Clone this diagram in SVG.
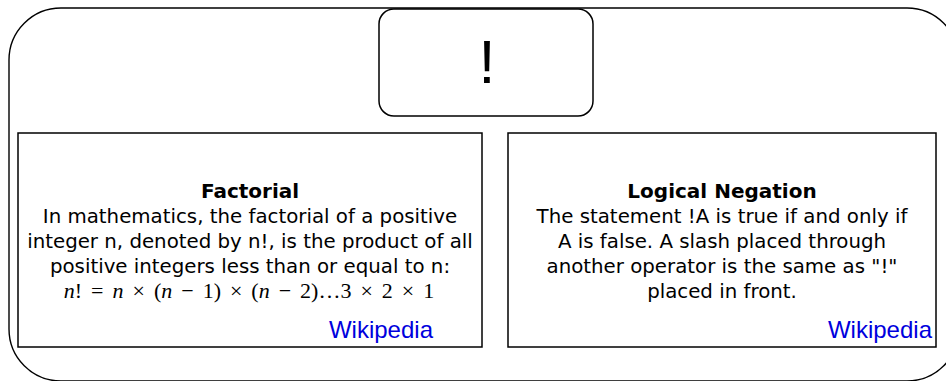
<svg xmlns="http://www.w3.org/2000/svg" width="946" height="381" viewBox="0 0 946 381">
<style>
.box{fill:#fff;stroke:#000;stroke-width:1.5}
.body{font-family:"DejaVu Sans",Verdana,sans-serif;font-size:19.8px;fill:#000;text-anchor:middle}
.title{font-weight:bold;font-size:20px}
.math{font-family:"Liberation Serif","Times New Roman",serif;font-size:22px;text-anchor:middle;word-spacing:3.5px}
.wiki{font-family:"Liberation Sans",Arial,sans-serif;font-size:24px;fill:#0000dd;text-anchor:end}
</style>
<rect width="946" height="381" fill="#fff"/>
<g id="container">
<rect x="9" y="8" width="950" height="373" rx="52" ry="52" fill="#fff" stroke="#000" stroke-width="1.4"/>
</g>
<g id="connectors"></g>
<g id="bang">
<rect class="box" x="379" y="9" width="214" height="107" rx="15" ry="15"/>
<text x="487" y="83" font-family="Liberation Sans,Arial,sans-serif" font-size="61" text-anchor="middle">!</text>
</g>
<g id="factorial">
<rect class="box" x="18" y="133" width="464" height="214"/>
<text class="body title" x="250" y="198">Factorial</text>
<text class="body" x="250" y="223">In mathematics, the factorial of a positive</text>
<text class="body" x="250" y="248">integer n, denoted by n!, is the product of all</text>
<text class="body" x="250" y="273">positive integers less than or equal to n:</text>
<text class="math" x="249" y="298"><tspan font-style="italic">n</tspan>! = <tspan font-style="italic">n</tspan> × (<tspan font-style="italic">n</tspan> − 1) × (<tspan font-style="italic">n</tspan> − 2)…3 × 2 × 1</text>
<text class="wiki" x="433" y="338">Wikipedia</text>
</g>
<g id="negation">
<rect class="box" x="508" y="133" width="428" height="214"/>
<text class="body title" x="722" y="198">Logical Negation</text>
<text class="body" x="722" y="223">The statement !A is true if and only if</text>
<text class="body" x="722" y="248">A is false. A slash placed through</text>
<text class="body" x="722" y="273">another operator is the same as "!"</text>
<text class="body" x="722" y="298">placed in front.</text>
<text class="wiki" x="932" y="338">Wikipedia</text>
</g>
</svg>
